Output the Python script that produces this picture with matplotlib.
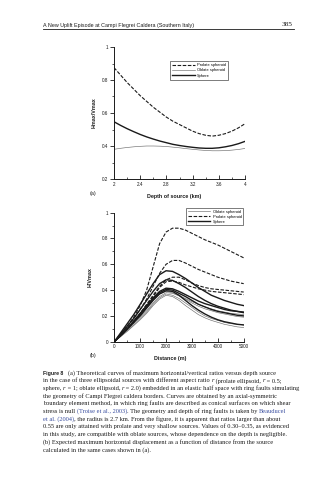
import matplotlib
matplotlib.use("Agg")
import matplotlib.pyplot as plt
from matplotlib.ticker import MultipleLocator, FixedLocator, FuncFormatter

# ---------------------------------------------------------------- data
# (a) maximum H/V ratio versus source depth
depth_km = [2.0, 2.1, 2.2, 2.3, 2.4, 2.5, 2.6, 2.7, 2.8, 2.9, 3.0,
            3.1, 3.2, 3.3, 3.4, 3.5, 3.6, 3.7, 3.8, 3.9, 4.0]
prolate_depth = [0.875, 0.83, 0.785, 0.745, 0.705, 0.67, 0.635, 0.605, 0.575, 0.55, 0.53,
                 0.51, 0.49, 0.475, 0.465, 0.46, 0.465, 0.475, 0.49, 0.51, 0.535]
oblate_depth = [0.380, 0.386, 0.391, 0.395, 0.398, 0.400, 0.400, 0.399, 0.397, 0.393, 0.389,
                0.384, 0.380, 0.376, 0.373, 0.371, 0.371, 0.372, 0.375, 0.379, 0.385]
sphere_depth = [0.547, 0.525, 0.505, 0.487, 0.470, 0.455, 0.442, 0.430, 0.420, 0.410, 0.403,
                0.397, 0.392, 0.388, 0.386, 0.386, 0.389, 0.395, 0.403, 0.414, 0.428]

# (b) H/Vmax versus distance from the source
distance_m = [0, 250, 500, 750, 1000, 1250, 1500, 1750, 2000, 2250, 2500,
              2750, 3000, 3250, 3500, 3750, 4000, 4250, 4500, 4750, 5000]
oblate_dist = [
    [0, 0.05, 0.10, 0.16, 0.22, 0.28, 0.33, 0.37, 0.39, 0.38, 0.36, 0.335, 0.31, 0.29, 0.27, 0.255, 0.24, 0.23, 0.22, 0.215, 0.21],
    [0, 0.045, 0.09, 0.14, 0.19, 0.24, 0.30, 0.35, 0.38, 0.375, 0.355, 0.33, 0.30, 0.275, 0.255, 0.24, 0.225, 0.215, 0.205, 0.195, 0.19],
    [0, 0.04, 0.085, 0.13, 0.18, 0.23, 0.29, 0.34, 0.37, 0.36, 0.335, 0.30, 0.265, 0.23, 0.20, 0.18, 0.165, 0.15, 0.14, 0.135, 0.13],
    [0, 0.04, 0.08, 0.125, 0.17, 0.22, 0.28, 0.33, 0.36, 0.35, 0.32, 0.28, 0.245, 0.21, 0.185, 0.165, 0.15, 0.135, 0.125, 0.115, 0.11],
]
prolate_dist = [
    [0, 0.06, 0.12, 0.19, 0.28, 0.40, 0.58, 0.76, 0.85, 0.88, 0.88, 0.865, 0.84, 0.815, 0.79, 0.77, 0.75, 0.725, 0.70, 0.675, 0.65],
    [0, 0.06, 0.12, 0.18, 0.25, 0.33, 0.43, 0.53, 0.60, 0.63, 0.63, 0.61, 0.585, 0.56, 0.54, 0.52, 0.50, 0.485, 0.47, 0.46, 0.45],
    [0, 0.05, 0.10, 0.16, 0.22, 0.29, 0.36, 0.43, 0.48, 0.50, 0.50, 0.48, 0.455, 0.435, 0.42, 0.41, 0.405, 0.40, 0.395, 0.39, 0.385],
    [0, 0.05, 0.10, 0.15, 0.21, 0.28, 0.35, 0.42, 0.465, 0.47, 0.46, 0.44, 0.425, 0.41, 0.40, 0.39, 0.385, 0.38, 0.375, 0.37, 0.365],
]
sphere_dist = [
    [0, 0.07, 0.14, 0.21, 0.29, 0.37, 0.45, 0.52, 0.55, 0.545, 0.52, 0.49, 0.455, 0.42, 0.39, 0.36, 0.34, 0.32, 0.305, 0.29, 0.28],
    [0, 0.06, 0.12, 0.18, 0.25, 0.32, 0.39, 0.45, 0.48, 0.475, 0.45, 0.42, 0.385, 0.35, 0.32, 0.295, 0.275, 0.26, 0.245, 0.235, 0.225],
    [0, 0.05, 0.10, 0.16, 0.22, 0.28, 0.34, 0.39, 0.415, 0.41, 0.39, 0.365, 0.34, 0.315, 0.295, 0.28, 0.265, 0.25, 0.24, 0.235, 0.23],
    [0, 0.05, 0.10, 0.15, 0.21, 0.27, 0.33, 0.38, 0.405, 0.40, 0.375, 0.35, 0.32, 0.29, 0.27, 0.25, 0.235, 0.225, 0.215, 0.205, 0.20],
    [0, 0.05, 0.10, 0.15, 0.20, 0.26, 0.32, 0.37, 0.395, 0.39, 0.36, 0.32, 0.28, 0.245, 0.215, 0.19, 0.17, 0.155, 0.145, 0.135, 0.13],
]

depth_ticks = [2, 2.4, 2.8, 3.2, 3.6, 4]
distance_ticks = [0, 1000, 2000, 3000, 4000, 5000]

header_text = "A New Uplift Episode at Campi Flegrei Caldera (Southern Italy)"
page_number = "385"

# Caption lines: [[...]] is set in the link colour, {...} in italics.
caption_lines = [
    "(a) Theoretical curves of maximum horizontal/vertical ratios versus depth source",
    "in the case of three ellipsoidal sources with different aspect ratio {r} (prolate ellipsoid, {r} = 0.5;",
    "sphere, {r} = 1; oblate ellipsoid, {r} = 2.0) embedded in an elastic half space with ring faults simulating",
    "the geometry of Campi Flegrei caldera borders. Curves are obtained by an axial-symmetric",
    "boundary element method, in which ring faults are described as conical surfaces on which shear",
    "stress is null [[(Troise et al., 2003)]]. The geometry and depth of ring faults is taken by [[Beauducel]]",
    "[[et al. (2004)]], the radius is 2.7 km. From the figure, it is apparent that ratios larger than about",
    "0.55 are only attained with prolate and very shallow sources. Values of 0.30\u20130.35, as evidenced",
    "in this study, are compatible with oblate sources, whose dependence on the depth is negligible.",
    "(b) Expected maximum horizontal displacement as a function of distance from the source",
    "calculated in the same cases shown in (a).",
]

# ---------------------------------------------------------------- figure
W, H = 329, 480
fig = plt.figure(figsize=(W / 100, H / 100), dpi=100)
renderer = fig.canvas.get_renderer()

SANS = "Liberation Sans"
SERIF = "Liberation Serif"
INK = "#1a1a1a"
LINK = "#3a4fa0"


def fx(px):
    return px / W


def fy(py):
    return 1 - py / H


def text_width(s, **kw):
    t = fig.text(0, 0, s, **kw)
    w = t.get_window_extent(renderer=renderer).width
    t.remove()
    return w


def advance(s, **kw):
    # width including trailing spaces, measured against a fence character
    return text_width(s + "|", **kw) - text_width("|", **kw)


def fit_size(s, target_px, **kw):
    ref = 10.0
    return ref * target_px / text_width(s, fontsize=ref, **kw)


def style_axes(ax, label_size):
    for side in ("top", "right"):
        ax.spines[side].set_visible(False)
    for side in ("left", "bottom"):
        ax.spines[side].set_linewidth(0.7)
        ax.spines[side].set_color(INK)
    ax.tick_params(axis="y", which="major", direction="out", length=3, width=0.6,
                   labelsize=label_size, pad=1.5, colors=INK)
    ax.tick_params(axis="y", which="minor", direction="out", length=1.6, width=0.5, colors=INK)
    ax.tick_params(axis="x", which="major", direction="in", length=3, width=0.6,
                   labelsize=label_size, pad=2.0, colors=INK)
    ax.tick_params(axis="x", which="minor", direction="in", length=1.6, width=0.5, colors=INK)
    for lab in ax.get_xticklabels() + ax.get_yticklabels():
        lab.set_fontfamily(SANS)


def fmt_num(v, _pos):
    return ("%g" % v)


lw_sphere, lw_prolate, lw_oblate = 1.0, 0.8, 0.45
col_oblate = "#6d6d6d"
dash = (0, (3.2, 1.4))

# ------------------------------------------------------------ panel (a)
ax_a = fig.add_axes([fx(114), fy(179), (245 - 114) / W, (179 - 47) / H])
ax_a.plot(depth_km, prolate_depth, color=INK, lw=lw_prolate, linestyle=dash, label="Prolate spheroid")
ax_a.plot(depth_km, oblate_depth, color=col_oblate, lw=lw_oblate, label="Oblate spheroid")
ax_a.plot(depth_km, sphere_depth, color=INK, lw=lw_sphere, label="Sphere")
ax_a.set_xlim(2, 4)
ax_a.set_ylim(0.2, 1.0)
ax_a.xaxis.set_major_locator(FixedLocator(depth_ticks))
ax_a.xaxis.set_minor_locator(MultipleLocator(0.2))
ax_a.yaxis.set_major_locator(MultipleLocator(0.2))
ax_a.yaxis.set_minor_locator(MultipleLocator(0.1))
ax_a.xaxis.set_major_formatter(FuncFormatter(fmt_num))
ax_a.yaxis.set_major_formatter(FuncFormatter(fmt_num))
style_axes(ax_a, 3.3)
ax_a.set_xlabel("Depth of source (km)", fontsize=3.9, fontweight="bold", family=SANS, color=INK)
ax_a.set_ylabel("Hmax/Vmax", fontsize=3.9, fontweight="bold", family=SANS, color=INK)
ax_a.xaxis.set_label_coords((174 - 114) / 131, (179 - 194) / 132)
ax_a.yaxis.set_label_coords((97 - 114) / 131, 0.5)
leg_a = ax_a.legend(loc="upper left", bbox_to_anchor=(fx(170), fy(61)),
                    bbox_transform=fig.transFigure, fontsize=2.9, frameon=True,
                    fancybox=False, edgecolor=INK, handlelength=5.6, handletextpad=0.6,
                    borderpad=0.5, labelspacing=0.35, borderaxespad=0)
leg_a.get_frame().set_linewidth(0.5)
for t in leg_a.get_texts():
    t.set_fontfamily(SANS)
fig.text(fx(93), fy(194), "(a)", fontsize=3.9, family=SANS, color=INK, ha="center", va="center")

# ------------------------------------------------------------ panel (b)
ax_b = fig.add_axes([fx(114.3), fy(341.7), (243.7 - 114.3) / W, (341.7 - 212.7) / H])
for i, ys in enumerate(oblate_dist):
    ax_b.plot(distance_m, ys, color=col_oblate, lw=lw_oblate,
              label="Oblate spheroid" if i == 0 else None)
for i, ys in enumerate(prolate_dist):
    ax_b.plot(distance_m, ys, color=INK, lw=lw_prolate, linestyle=dash,
              label="Prolate spheroid" if i == 0 else None)
for i, ys in enumerate(sphere_dist):
    ax_b.plot(distance_m, ys, color=INK, lw=lw_sphere,
              label="Sphere" if i == 0 else None)
ax_b.set_xlim(0, 5000)
ax_b.set_ylim(0, 1.0)
ax_b.xaxis.set_major_locator(FixedLocator(distance_ticks))
ax_b.xaxis.set_minor_locator(MultipleLocator(500))
ax_b.yaxis.set_major_locator(MultipleLocator(0.2))
ax_b.yaxis.set_minor_locator(MultipleLocator(0.1))
ax_b.xaxis.set_major_formatter(FuncFormatter(fmt_num))
ax_b.yaxis.set_major_formatter(FuncFormatter(fmt_num))
style_axes(ax_b, 3.3)
ax_b.set_xlabel("Distance (m)", fontsize=3.9, fontweight="bold", family=SANS, color=INK)
ax_b.set_ylabel("H/Vmax", fontsize=3.9, fontweight="bold", family=SANS, color=INK)
ax_b.xaxis.set_label_coords((170 - 114.3) / 129.4, (341.7 - 356) / 129)
ax_b.yaxis.set_label_coords((93 - 114.3) / 129.4, 0.5)
leg_b = ax_b.legend(loc="upper left", bbox_to_anchor=(fx(186), fy(208)),
                    bbox_transform=fig.transFigure, fontsize=2.9, frameon=True,
                    fancybox=False, edgecolor=INK, handlelength=5.6, handletextpad=0.6,
                    borderpad=0.4, labelspacing=0.25, borderaxespad=0)
leg_b.get_frame().set_linewidth(0.5)
for t in leg_b.get_texts():
    t.set_fontfamily(SANS)
fig.text(fx(93), fy(356), "(b)", fontsize=3.9, family=SANS, color=INK, ha="center", va="center")

# ------------------------------------------------------------ running head
head_size = fit_size(header_text, 152, family=SANS)
fig.text(fx(43), fy(26.5), header_text, fontsize=head_size, family=SANS,
         color=INK, ha="left", va="baseline")
fig.text(fx(293), fy(26.5), page_number, fontsize=head_size * 1.35, family=SERIF,
         color=INK, ha="right", va="baseline")
fig.add_artist(plt.Line2D([fx(43), fx(294)], [fy(29), fy(29)], color=INK, lw=0.6))

# ------------------------------------------------------------ caption
cap_kw = dict(family=SERIF)
plain_line = caption_lines[2].replace("{", "").replace("}", "")
cap_size = fit_size(plain_line, 252, **cap_kw)
cap_kw["fontsize"] = cap_size


def split_segments(line):
    """Break a caption line into (text, colour, style) runs."""
    segs = []
    buf, col, sty = "", INK, "normal"
    i = 0
    while i < len(line):
        if line.startswith("[[", i) or line.startswith("]]", i) or line[i] in "{}":
            if buf:
                segs.append((buf, col, sty))
                buf = ""
            if line.startswith("[[", i):
                col, i = LINK, i + 2
            elif line.startswith("]]", i):
                col, i = INK, i + 2
            elif line[i] == "{":
                sty, i = "italic", i + 1
            else:
                sty, i = "normal", i + 1
            continue
        buf += line[i]
        i += 1
    if buf:
        segs.append((buf, col, sty))
    return segs


def draw_caption_line(x0, baseline, line):
    x = x0
    for seg, col, sty in split_segments(line):
        fig.text(fx(x), fy(baseline), seg, ha="left", va="baseline", color=col,
                 style=sty, **cap_kw)
        x += advance(seg, style=sty, **cap_kw)


line_gap = 7.68
first_base = 374.5
fig_label_size = fit_size("Figure 8", 20, family=SANS, fontweight="bold")
fig.text(fx(43), fy(first_base), "Figure 8", fontsize=fig_label_size, family=SANS,
         fontweight="bold", color=INK, ha="left", va="baseline")
draw_caption_line(68, first_base, caption_lines[0])
for i, line in enumerate(caption_lines[1:], start=1):
    draw_caption_line(43, first_base + i * line_gap, line)

fig.savefig("out.png", dpi=100)
